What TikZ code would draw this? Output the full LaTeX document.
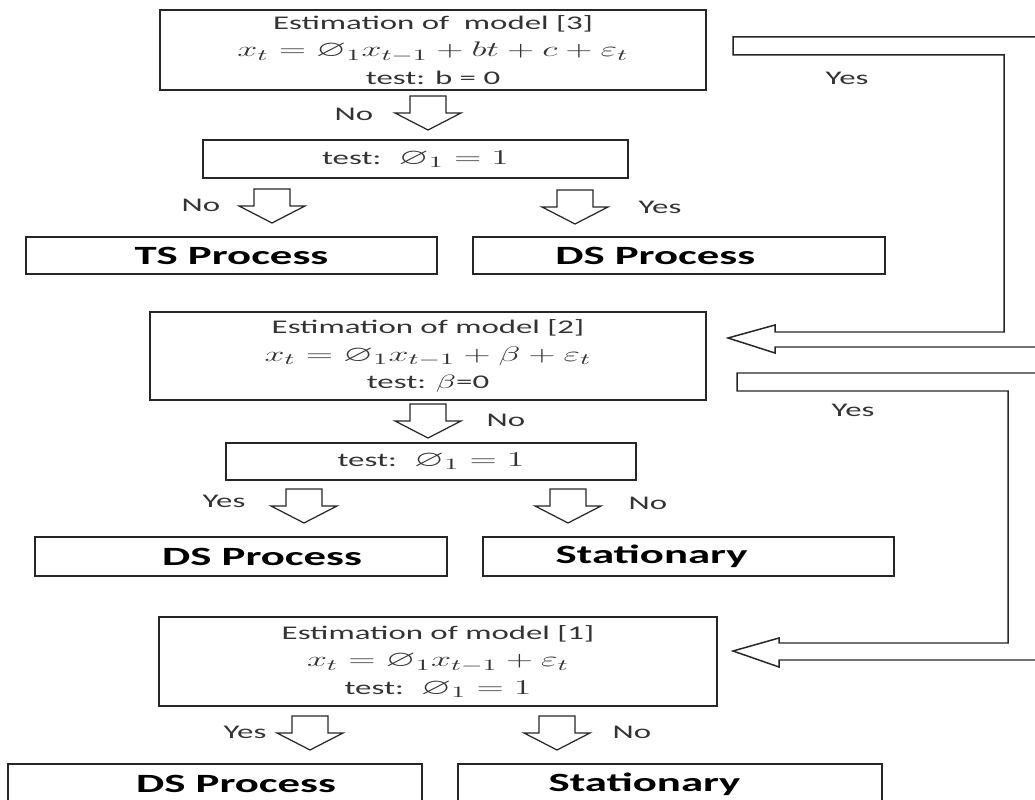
\documentclass[tikz,border=0pt]{standalone}
\usepackage{amsmath,amssymb}
\usepackage{graphicx}
\usepackage{fontspec}
\setmainfont{Carlito}
\newcommand{\wide}[1]{\scalebox{1.7}[1]{#1}}
\newcommand{\mfont}{\fontsize{13}{15}\selectfont}
\tikzset{
  every picture/.style={line join=miter},
  box/.style 2 args={draw=black!85, line width=0.85pt, rectangle, inner sep=0pt,
    minimum width=#1*0.02cm, minimum height=#2*0.02cm, align=center,
    text=black!80, font=\fontsize{11}{15.5}\selectfont},
  res/.style 2 args={box={#1}{#2}, text=black, font=\fontsize{15}{18}\selectfont\bfseries},
  lbl/.style={inner sep=0pt, text=black!80, font=\fontsize{11}{13}\selectfont},
  loop/.style={draw=black!85, line width=0.85pt},
  pics/hdown/.style={code={
    \draw[draw=black!85, line width=0.7pt] (-18,-34) -- (18,-34) -- (18,-17) -- (33,-17)
      -- (0,0) -- (-33,-17) -- (-18,-17) -- cycle;}},
}

\begin{document}
\begin{tikzpicture}[x=0.02cm, y=-0.02cm]
\useasboundingbox (0,0) rectangle (1035,800);
\clip (0,0) rectangle (1035,800);
% model [3]
\node[box={546}{80}] (m3) at (433,50)
  {\wide{Estimation of\ \ model [3]}\\
   \wide{\mfont$x_t = \varnothing_1 x_{t-1} + bt + c + \varepsilon_t$}\\
   \wide{test: b = 0}};
\pic at (428,130) {hdown};
\node[lbl] (no1) at (354,114) {\wide{No}};
\node[box={425}{38}] (t3) at (415.5,159) {\wide{test: \ \mfont$\varnothing_1 = 1$}};
\pic at (272,223) {hdown};
\node[lbl] (no2) at (201,205) {\wide{No}};
\pic at (575,224) {hdown};
\node[lbl] (yes2) at (660,207) {\wide{Yes}};
\node[res={411}{37}] (ts3) at (231.5,255.5) {\wide{TS Process}};
\node[res={412}{37}] (ds3) at (679,255.5) {\wide{DS Process}\hspace{27pt}};
% model [2]
\node[box={556}{88}] (m2) at (428,356)
  {\wide{Estimation of model [2]}\\
   \wide{\mfont$x_t = \varnothing_1 x_{t-1} + \beta + \varepsilon_t$}\\
   \wide{test: $\beta$=0}};
\pic at (428,438) {hdown};
\node[lbl] (no3) at (506,420) {\wide{No}};
\node[box={410}{37}] (t2) at (431,461.5) {\wide{test: \ \mfont$\varnothing_1 = 1$}};
\pic at (304,523) {hdown};
\node[lbl] (yes3) at (224,501) {\wide{Yes}};
\pic at (568,523) {hdown};
\node[lbl] (no4) at (648,503) {\wide{No}};
\node[res={412}{39}] (ds2) at (241,556.5) {\hspace{24pt}\wide{DS Process}};
\node[res={411}{39}] (st2) at (688.5,556.5) {\wide{Stationary}\hspace{42pt}};
% model [1]
\node[box={558}{89}] (m1) at (438,661.5)
  {\wide{Estimation of model [1]}\\
   \wide{\mfont$x_t = \varnothing_1 x_{t-1} + \varepsilon_t$}\\
   \wide{test: \ \mfont$\varnothing_1 = 1$}};
\pic at (310,750) {hdown};
\node[lbl] (yes4) at (245,732) {\wide{Yes}};
\pic at (557,750) {hdown};
\node[lbl] (no5) at (632,732) {\wide{No}};
\node[res={414}{40}] (ds1) at (215,784) {\hspace{24pt}\wide{DS Process}};
\node[res={424}{40}] (st1) at (670,784) {\wide{Stationary}\hspace{29pt}};
% Yes loops
\draw[loop] (733,37) -- (1045,37) -- (1045,347) -- (775,347) -- (775,353) -- (728,338)
  -- (775,325) -- (775,332) -- (1004,332) -- (1004,55) -- (733,55) -- cycle;
\node[lbl] (yes1) at (847,78) {\wide{Yes}};
\draw[loop] (737,373) -- (1045,373) -- (1045,660) -- (779,660) -- (779,667) -- (733,651)
  -- (779,638) -- (779,643) -- (1008,643) -- (1008,391) -- (737,391) -- cycle;
\node[lbl] (yes5) at (853,410) {\wide{Yes}};
\end{tikzpicture}
\end{document}
